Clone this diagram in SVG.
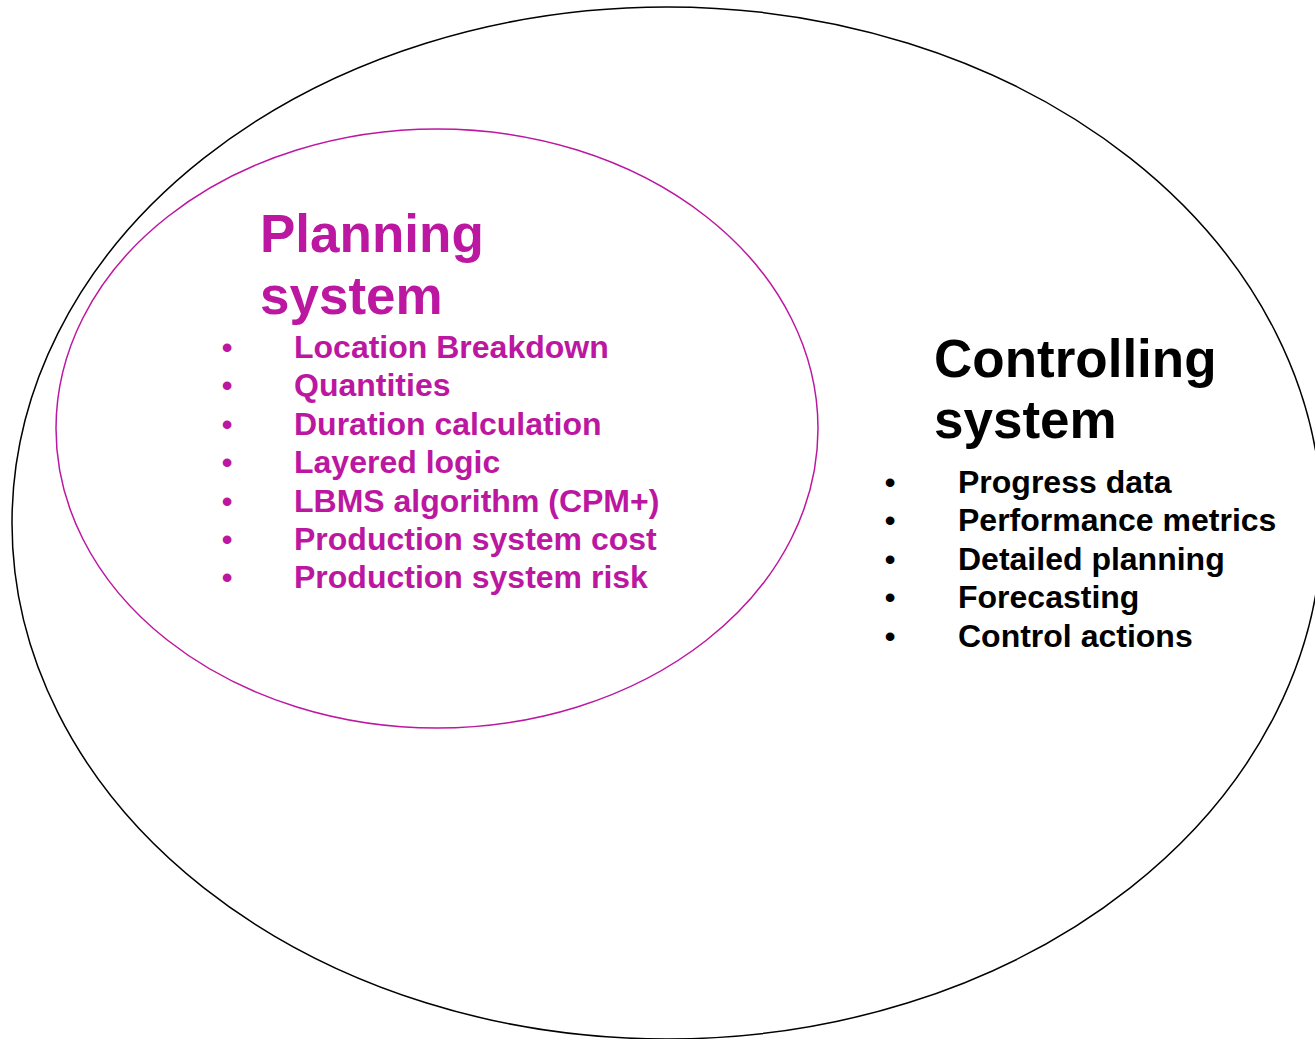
<svg xmlns="http://www.w3.org/2000/svg" width="1315" height="1039" viewBox="0 0 1315 1039">
  <style>
    text { font-family: "Liberation Sans", Arial, sans-serif; font-weight: bold; }
    .title { font-size: 53px; }
    .item { font-size: 32px; }
    .bullet { font-weight: normal; }
    .plan { fill: #BC17A0; }
    .ctrl { fill: #000000; }
    .outer { fill: none; stroke: #000000; stroke-width: 1.5; }
    .inner { fill: none; stroke: #BC17A0; stroke-width: 1.5; }
  </style>
  <rect width="1315" height="1039" fill="#ffffff"/>

  <!-- Controlling system: outer ellipse -->
  <g id="controlling-system">
    <ellipse class="outer" cx="667" cy="523" rx="655" ry="516"/>
    <text class="title ctrl" x="934" y="377">Controlling</text>
    <text class="title ctrl" x="934" y="438">system</text>
    <g class="item ctrl">
      <text class="bullet" x="884.5" y="493">•</text><text x="958" y="493">Progress data</text>
      <text class="bullet" x="884.5" y="531.4">•</text><text x="958" y="531.4">Performance metrics</text>
      <text class="bullet" x="884.5" y="569.8">•</text><text x="958" y="569.8">Detailed planning</text>
      <text class="bullet" x="884.5" y="608.2">•</text><text x="958" y="608.2">Forecasting</text>
      <text class="bullet" x="884.5" y="646.6">•</text><text x="958" y="646.6">Control actions</text>
    </g>
  </g>

  <!-- Planning system: inner ellipse -->
  <g id="planning-system">
    <ellipse class="inner" cx="437" cy="428.5" rx="381" ry="299.5"/>
    <text class="title plan" x="260" y="252">Planning</text>
    <text class="title plan" x="260" y="314">system</text>
    <g class="item plan">
      <text class="bullet" x="221.5" y="358">•</text><text x="294" y="358">Location Breakdown</text>
      <text class="bullet" x="221.5" y="396.4">•</text><text x="294" y="396.4">Quantities</text>
      <text class="bullet" x="221.5" y="434.8">•</text><text x="294" y="434.8">Duration calculation</text>
      <text class="bullet" x="221.5" y="473.2">•</text><text x="294" y="473.2">Layered logic</text>
      <text class="bullet" x="221.5" y="511.6">•</text><text x="294" y="511.6">LBMS algorithm (CPM+)</text>
      <text class="bullet" x="221.5" y="550">•</text><text x="294" y="550">Production system cost</text>
      <text class="bullet" x="221.5" y="588.4">•</text><text x="294" y="588.4">Production system risk</text>
    </g>
  </g>

  <!-- no connectors in this diagram -->
  <g id="connectors"/>
</svg>
